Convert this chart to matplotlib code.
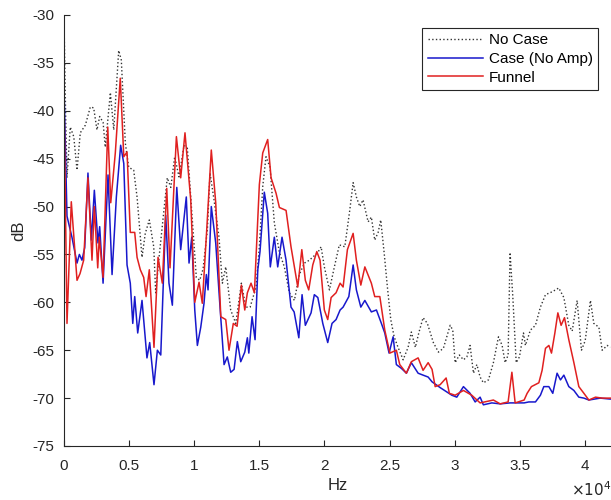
import matplotlib
matplotlib.use("Agg")
import matplotlib.pyplot as plt
import numpy as np

plt.rcParams['font.family'] = ['Liberation Sans', 'DejaVu Sans']
plt.rcParams['axes.unicode_minus'] = False

# frequencies in units of 1e4 Hz, levels in dB
f_nocase = [0, 0.012, 0.023, 0.048, 0.075, 0.100, 0.125, 0.164, 0.202, 0.228, 0.253, 0.274,
            0.300, 0.317, 0.356, 0.382, 0.420, 0.440, 0.471, 0.497, 0.535, 0.561, 0.599, 0.624,
            0.655, 0.689, 0.704, 0.730, 0.793, 0.820, 0.850, 0.883, 0.922, 0.947, 0.973, 1.016,
            1.042, 1.068, 1.101, 1.121, 1.152, 1.190, 1.216, 1.242, 1.280, 1.319, 1.362, 1.396,
            1.429, 1.475, 1.500, 1.526, 1.551, 1.582, 1.615, 1.654, 1.692, 1.730, 1.769, 1.807,
            1.846, 1.884, 1.949, 1.974, 1.999, 2.038, 2.076, 2.114, 2.156, 2.194, 2.220, 2.245,
            2.271, 2.296, 2.335, 2.360, 2.386, 2.412, 2.432, 2.458, 2.483, 2.509, 2.535, 2.565,
            2.604, 2.642, 2.667, 2.698, 2.724, 2.757, 2.790, 2.836, 2.875, 2.913, 2.965, 2.985,
            3.003, 3.036, 3.067, 3.093, 3.118, 3.144, 3.170, 3.195, 3.220, 3.259, 3.297, 3.336,
            3.364, 3.387, 3.410, 3.425, 3.446, 3.472, 3.497, 3.528, 3.543, 3.581, 3.620, 3.658,
            3.697, 3.748, 3.799, 3.838, 3.876, 3.902, 3.940, 3.973, 4.002, 4.042, 4.068, 4.107,
            4.132, 4.171, 4.194]
db_nocase = [-30.5, -40, -47, -41.7, -42.7, -46.2, -42.3, -41.5, -39.6, -39.7, -42.0, -40.6,
             -41.2, -43.8, -38.1, -42.0, -33.7, -34.7, -43.4, -45.9, -46.2, -49.0, -55.3, -52.8,
             -51.4, -54.2, -59.0, -55.3, -47.0, -48.0, -44.8, -46.9, -43.6, -43.9, -49.0, -57.4,
             -57.7, -56.5, -52.4, -46.5, -49.3, -53.2, -58.0, -56.3, -60.8, -62.2, -58.0, -60.5,
             -60.5, -58.4, -54.2, -47.9, -44.8, -45.9, -51.7, -54.8, -56.3, -59.0, -59.8, -57.1,
             -55.9, -55.6, -54.8, -54.2, -56.3, -58.7, -56.3, -54.0, -54.2, -50.4, -47.5, -49.0,
             -50.0, -49.3, -51.6, -51.1, -53.5, -52.7, -51.4, -54.8, -58.4, -61.8, -63.6, -64.7,
             -66.0, -64.7, -63.1, -64.7, -63.2, -61.6, -62.2, -64.2, -65.2, -64.8, -62.4, -62.9,
             -66.3, -65.5, -66.0, -65.7, -64.5, -67.4, -66.5, -67.8, -68.4, -68.1, -66.3, -63.6,
             -64.5, -66.3, -65.5, -54.8, -59.4, -66.3, -65.7, -63.2, -64.5, -62.9, -62.4, -60.5,
             -59.2, -58.9, -58.5, -59.5, -62.4, -63.0, -59.8, -65.0, -64.0, -59.8, -62.2, -62.6,
             -65.0, -64.5, -64.7]

f_case = [0, 0.023, 0.061, 0.100, 0.118, 0.138, 0.159, 0.184, 0.210, 0.233, 0.261, 0.274,
          0.300, 0.338, 0.369, 0.402, 0.435, 0.459, 0.484, 0.509, 0.528, 0.543, 0.566, 0.599,
          0.637, 0.658, 0.691, 0.717, 0.743, 0.781, 0.806, 0.832, 0.866, 0.896, 0.939, 0.960,
          0.981, 1.004, 1.024, 1.050, 1.075, 1.093, 1.106, 1.131, 1.165, 1.198, 1.229, 1.254,
          1.280, 1.306, 1.331, 1.357, 1.388, 1.408, 1.419, 1.444, 1.467, 1.488, 1.505, 1.538,
          1.564, 1.584, 1.615, 1.641, 1.674, 1.705, 1.743, 1.767, 1.803, 1.828, 1.853, 1.897,
          1.922, 1.949, 1.987, 2.025, 2.058, 2.089, 2.120, 2.143, 2.187, 2.220, 2.245, 2.279,
          2.310, 2.360, 2.399, 2.437, 2.463, 2.496, 2.527, 2.552, 2.591, 2.629, 2.667, 2.719,
          2.757, 2.796, 2.826, 2.888, 2.978, 3.016, 3.067, 3.118, 3.157, 3.195, 3.220, 3.285,
          3.349, 3.425, 3.533, 3.569, 3.620, 3.658, 3.684, 3.723, 3.753, 3.786, 3.812, 3.838,
          3.876, 3.915, 3.953, 3.992, 4.030, 4.117, 4.194]
db_case = [-37.5, -51.0, -53.2, -55.9, -55.0, -55.6, -54.3, -46.5, -53.5, -48.3, -53.8, -52.1,
           -58.0, -46.7, -57.1, -49.0, -43.6, -45.5, -56.1, -58.0, -62.2, -59.4, -63.2, -59.8,
           -65.8, -64.2, -68.6, -65.0, -65.5, -50.9, -58.0, -60.3, -48.0, -54.5, -49.0, -55.9,
           -53.2, -60.8, -64.5, -62.6, -60.1, -57.1, -58.7, -50.0, -53.8, -60.5, -66.5, -65.7,
           -67.3, -67.0, -64.1, -66.2, -65.2, -63.7, -65.3, -61.5, -63.9, -56.6, -54.7, -48.5,
           -50.7, -56.3, -53.2, -56.3, -53.2, -55.6, -60.5, -61.0, -63.7, -59.2, -62.4, -61.1,
           -59.2, -59.5, -62.2, -64.2, -62.2, -61.8, -60.8, -60.5, -59.4, -56.1, -58.7, -60.5,
           -59.8, -61.0, -60.8, -62.2, -63.2, -65.3, -63.6, -66.5, -66.9, -67.4, -66.3, -67.4,
           -67.6, -67.8, -68.3, -68.9, -69.7, -69.9, -68.8, -69.5, -70.4, -69.9, -70.7, -70.5,
           -70.6, -70.5, -70.5, -70.4, -70.4, -69.7, -68.8, -68.8, -69.5, -67.4, -68.1, -67.6,
           -68.8, -69.2, -69.9, -70.0, -70.2, -70.0, -70.1]

f_funnel = [0, 0.023, 0.056, 0.100, 0.123, 0.151, 0.184, 0.215, 0.233, 0.259, 0.271, 0.300,
            0.336, 0.359, 0.394, 0.432, 0.459, 0.484, 0.509, 0.543, 0.561, 0.586, 0.612, 0.630,
            0.655, 0.691, 0.722, 0.755, 0.789, 0.814, 0.863, 0.896, 0.929, 0.973, 1.004, 1.037,
            1.062, 1.096, 1.131, 1.165, 1.204, 1.242, 1.267, 1.300, 1.329, 1.362, 1.388, 1.408,
            1.436, 1.462, 1.500, 1.526, 1.564, 1.590, 1.628, 1.654, 1.705, 1.743, 1.795, 1.826,
            1.853, 1.879, 1.910, 1.941, 1.966, 1.999, 2.025, 2.051, 2.089, 2.120, 2.143, 2.176,
            2.220, 2.245, 2.279, 2.310, 2.360, 2.386, 2.425, 2.463, 2.502, 2.552, 2.578, 2.629,
            2.667, 2.719, 2.757, 2.796, 2.826, 2.850, 2.888, 2.934, 2.959, 3.003, 3.067, 3.131,
            3.195, 3.297, 3.349, 3.410, 3.439, 3.464, 3.533, 3.556, 3.589, 3.646, 3.671, 3.697,
            3.723, 3.743, 3.769, 3.792, 3.817, 3.843, 3.876, 3.915, 3.953, 3.992, 4.030, 4.081,
            4.132, 4.194]
db_funnel = [-38.5, -62.2, -49.5, -57.7, -57.0, -55.6, -47.0, -55.6, -50.0, -56.4, -53.2, -57.4,
             -41.7, -49.6, -44.4, -36.6, -44.8, -44.3, -52.7, -52.7, -55.3, -56.6, -57.4, -59.4,
             -56.6, -64.7, -55.3, -58.0, -48.1, -56.4, -42.7, -47.0, -42.3, -49.3, -60.0, -57.9,
             -60.1, -52.4, -44.1, -49.6, -61.5, -61.8, -65.0, -62.2, -62.5, -58.2, -60.8, -59.0,
             -58.0, -59.0, -47.7, -44.4, -43.0, -47.0, -48.6, -50.1, -50.4, -54.2, -58.4, -54.5,
             -57.7, -58.7, -56.1, -54.7, -55.6, -60.8, -61.8, -59.5, -59.0, -58.0, -58.4, -54.5,
             -52.8, -55.6, -58.2, -56.3, -58.0, -59.4, -59.4, -62.9, -65.3, -65.0, -66.5, -67.4,
             -66.2, -65.8, -67.1, -66.3, -67.0, -68.8, -68.6, -67.9, -69.5, -69.7, -69.2, -69.7,
             -70.5, -70.2, -70.6, -70.4, -67.3, -70.5, -70.2, -69.5, -68.8, -68.4, -67.1, -64.8,
             -64.5, -65.3, -63.2, -61.1, -62.4, -61.6, -63.9, -66.3, -68.8, -69.5, -70.2, -69.9,
             -70.0, -70.0]

xtick_vals = [0, 0.5, 1, 1.5, 2, 2.5, 3, 3.5, 4]
xtick_labels = ['0', '0.5', '1', '1.5', '2', '2.5', '3', '3.5', '4']
ytick_vals = [-75, -70, -65, -60, -55, -50, -45, -40, -35, -30]

grey = '#262626'

fig = plt.figure(figsize=(6.11, 5.0), dpi=100)
ax = fig.add_axes([64/611, 1 - 446/500, 1 - 64/611, (446 - 15)/500])

ax.plot(np.array(f_nocase) * 1e4, db_nocase, ':', color='#333333', lw=1.0, label='No Case')
ax.plot(np.array(f_case) * 1e4, db_case, '-', color='#1818cc', lw=1.1, label='Case (No Amp)')
ax.plot(np.array(f_funnel) * 1e4, db_funnel, '-', color='#e02020', lw=1.1, label='Funnel')

ax.set_xlim(0, 4.2e4)
ax.set_ylim(-75, -30)
ax.set_xticks(np.array(xtick_vals) * 1e4)
ax.set_xticklabels(xtick_labels)
ax.set_yticks(ytick_vals)

for s in ['top', 'right']:
    ax.spines[s].set_visible(False)
for s in ['left', 'bottom']:
    ax.spines[s].set_color(grey)
    ax.spines[s].set_linewidth(0.8)
ax.tick_params(direction='in', length=4, width=0.8, colors=grey, labelsize=11)
ax.tick_params(axis='x', pad=9)
ax.tick_params(axis='y', pad=7)

ax.set_xlabel('Hz', fontsize=12, color=grey, labelpad=4)
ax.set_ylabel('dB', fontsize=12, color=grey, labelpad=4)
ax.text(1.0, -0.08, r'$\times10^4$', transform=ax.transAxes, ha='right', va='top',
        fontsize=11, color=grey)

leg = ax.legend(loc='upper right', bbox_to_anchor=(598/611, 1 - 28/500), bbox_transform=fig.transFigure,
                fancybox=False, framealpha=1, edgecolor=grey, fontsize=11, handlelength=3.6,
                handletextpad=0.4, borderpad=0.35, labelspacing=0.3, borderaxespad=0)
leg.get_frame().set_linewidth(0.8)

fig.savefig('out.png', dpi=100)
